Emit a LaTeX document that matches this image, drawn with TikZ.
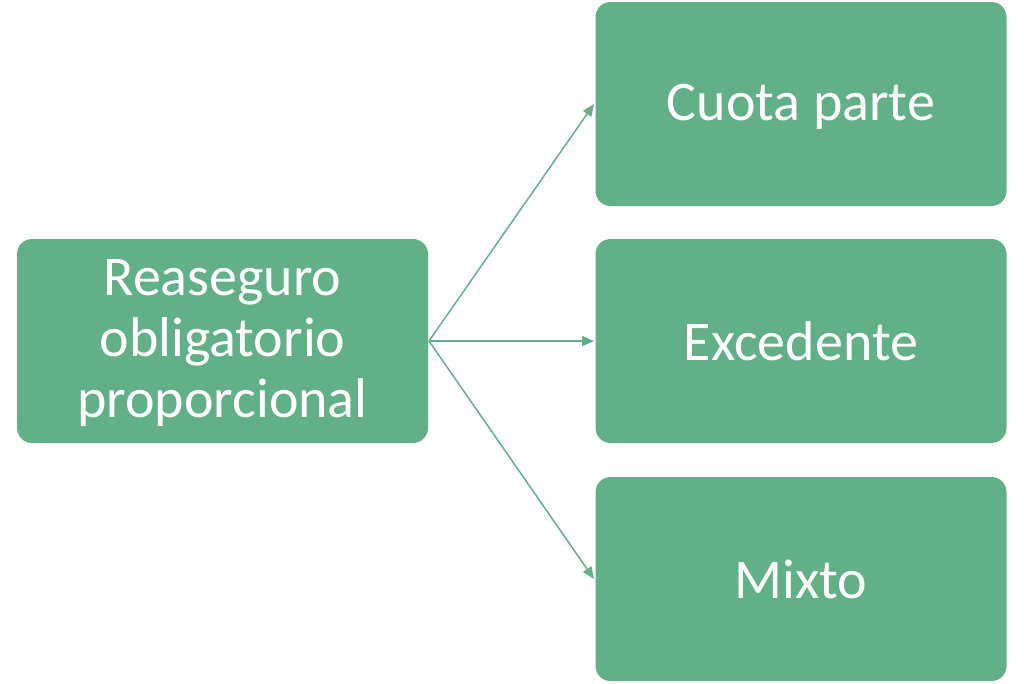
\documentclass[tikz,border=0pt]{standalone}
\usepackage{fontspec}
\setmainfont{Carlito}
\usetikzlibrary{arrows.meta}
\definecolor{boxgreen}{HTML}{62B087}
\tikzset{
  gbox/.style={draw=none, fill=boxgreen, rounded corners=15pt, minimum width=411pt, minimum height=204pt, text=white, align=center, font=\fontsize{56}{61}\selectfont, inner sep=0pt},
  conn/.style={draw=boxgreen, line width=1.5pt, -{Triangle[length=12pt,width=10pt]}}
}
\begin{document}
\begin{tikzpicture}[x=1pt,y=-1pt]
\useasboundingbox (0,0) rectangle (1024,683);
\node[gbox, text depth=5pt] (src) at (222.5,341) {Reaseguro\\obligatorio\\proporcional};
\node[gbox, text depth=3pt] (a) at (801,104) {Cuota parte};
\node[gbox] (b) at (801,341) {Excedente};
\node[gbox] (c) at (801,579) {Mixto};
\coordinate (s) at (429,341);
\coordinate (ta) at (594,104);
\coordinate (tb) at (594,341);
\coordinate (tc) at (594,579);
\draw[conn] (s) -- (ta);
\draw[conn] (s) -- (tb);
\draw[conn] (s) -- (tc);
\end{tikzpicture}
\end{document}
